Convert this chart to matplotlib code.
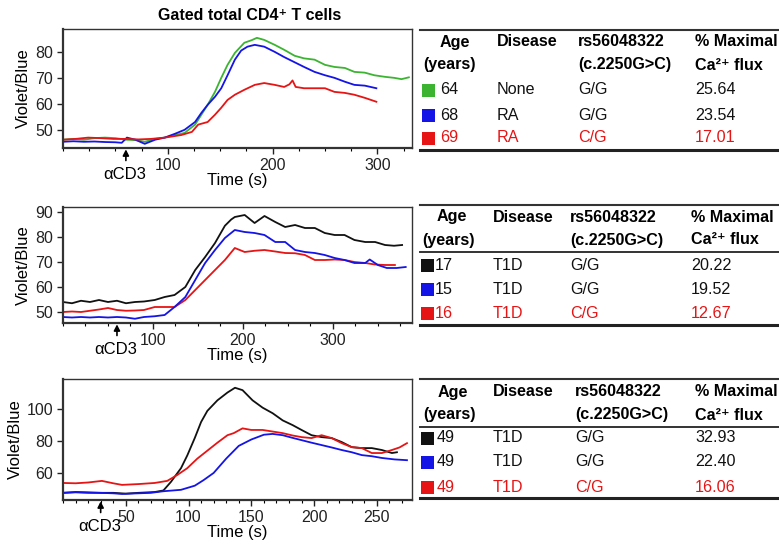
import matplotlib
matplotlib.use("Agg")
import matplotlib.pyplot as plt
from matplotlib.ticker import MultipleLocator, FixedLocator
from matplotlib.lines import Line2D
from matplotlib.patches import Rectangle

plt.rcParams['font.family'] = ['Liberation Sans', 'DejaVu Sans']

# ---------------- data ----------------
# Panel 1 (Gated total CD4+ T cells)
p1_green_t = [0, 10, 20, 30, 40, 50, 60, 70, 78, 88, 97, 107, 116, 126, 132, 138, 145, 151, 157, 164, 173, 180, 185,
              192, 202, 211, 221, 230, 240, 250, 259, 269, 278, 288, 297, 307, 316, 323, 330]
p1_green_v = [46.2, 46.5, 46.2, 46.8, 47.0, 46.8, 46.2, 46.0, 45.4, 46.5, 47.0, 48.0, 48.8, 52.0, 55.8, 59.6, 64.6,
              70.0, 75.0, 79.6, 83.5, 84.5, 85.4, 84.6, 82.7, 80.8, 78.5, 77.5, 77.0, 75.0, 74.2, 73.8, 72.3, 72.0,
              71.0, 70.4, 70.0, 69.5, 70.2]
p1_blue_t = [0, 10, 20, 30, 40, 50, 56, 61, 69, 78, 88, 97, 107, 116, 126, 132, 138, 145, 151, 157, 164, 170, 176,
             183, 192, 202, 211, 221, 230, 240, 250, 259, 269, 278, 288, 299]
p1_blue_v = [45.4, 45.6, 45.4, 45.5, 45.3, 45.2, 45.0, 47.0, 46.2, 44.6, 46.2, 47.0, 48.5, 50.0, 53.0, 56.5, 59.6,
             62.7, 66.0, 71.0, 77.0, 80.5, 82.0, 82.7, 82.0, 80.0, 78.0, 76.0, 74.2, 72.3, 71.0, 70.0, 68.5, 67.3,
             67.0, 66.0]
p1_red_t = [0, 12, 24, 36, 48, 60, 72, 84, 97, 105, 113, 123, 129, 138, 145, 151, 157, 164, 173, 183, 192, 202, 211,
            216, 219, 222, 230, 240, 250, 259, 269, 278, 288, 299]
p1_red_v = [46.2, 46.5, 47.0, 46.8, 46.5, 46.5, 46.3, 46.5, 47.0, 47.5, 48.0, 49.2, 52.0, 53.0, 55.8, 58.5, 61.5,
            63.5, 65.4, 67.3, 68.0, 67.3, 66.5, 67.5, 69.0, 66.5, 66.0, 66.0, 66.0, 64.6, 64.2, 63.5, 62.3, 60.8]

# Panel 2
p2_black_t = [0, 10, 20, 30, 40, 50, 60, 70, 80, 90, 102, 113, 124, 136, 147, 158, 169, 180, 187, 191, 202, 213,
              224, 236, 247, 258, 269, 280, 291, 302, 313, 324, 336, 347, 358, 368, 377]
p2_black_v = [54, 53.5, 54.5, 54, 54.8, 54, 54.5, 53.5, 54, 54.2, 54.8, 56, 56.8, 60, 66.8, 72, 77.6, 84.5, 87, 88,
              88.8, 85.6, 88.4, 86, 84, 84.8, 83.6, 83.6, 81.6, 80.8, 80.8, 78.8, 78, 78, 76.8, 76.5, 76.8]
p2_blue_t = [0, 10, 20, 30, 40, 50, 60, 70, 80, 90, 102, 113, 124, 136, 147, 158, 169, 180, 191, 202, 213, 224, 236,
             247, 258, 269, 280, 291, 302, 313, 324, 336, 341, 350, 360, 371, 381]
p2_blue_v = [48, 47.8, 48, 47.8, 48, 47.8, 48, 47.8, 47.3, 48, 48.3, 48.8, 52, 56, 62.8, 69.6, 74.8, 79.6, 82.8, 82,
             81.6, 80.8, 78, 78, 74.8, 74, 73.6, 72.8, 71.6, 70.8, 69.6, 69.6, 71, 68.8, 67.6, 67.6, 68]
p2_red_t = [0, 10, 20, 30, 40, 50, 60, 70, 80, 90, 102, 113, 124, 136, 147, 158, 169, 180, 191, 202, 213, 224, 236,
            247, 258, 269, 280, 291, 302, 313, 324, 336, 347, 358, 369]
p2_red_v = [50, 50.2, 50, 50.5, 51, 51.6, 50.8, 50.5, 50.6, 50.8, 52, 52, 52, 54.8, 58.8, 62.8, 66.8, 70.8, 75.6, 74,
            74.5, 74.8, 74.2, 73.6, 73.5, 72.8, 70.8, 70.8, 71, 70.8, 70, 69.6, 69, 68.8, 68.8]

# Panel 3
p3_black_t = [0, 10, 20, 30, 40, 50, 60, 73, 80, 86, 94, 99, 105, 110, 115, 123, 131, 137, 143, 151, 159, 167, 175,
              183, 190, 198, 206, 214, 222, 230, 238, 246, 254, 262, 266]
p3_black_v = [47.5, 48, 47.8, 47.5, 47.5, 47, 47.5, 48, 49, 54.4, 63, 71, 82, 92, 99, 105.6, 110.5, 113.5, 112,
              105.6, 101, 97.5, 93, 90, 87, 83.7, 82.5, 81.9, 79.4, 76.2, 75.6, 75.6, 74.4, 72.5, 73]
p3_red_t = [0, 10, 20, 31, 40, 47, 60, 73, 83, 91, 99, 107, 115, 123, 131, 136, 143, 150, 159, 167, 175, 183, 190,
            198, 206, 214, 222, 230, 238, 246, 254, 262, 268, 274]
p3_red_v = [53.7, 53.5, 54, 55, 53.5, 52.5, 53, 53.7, 55, 58.7, 63, 69, 74, 79, 83.7, 85, 88, 87, 87, 86, 85, 83.5,
            82.5, 81.9, 83.7, 81.9, 78.7, 76.2, 75.6, 72.5, 72.5, 74.4, 76, 78.7]
p3_blue_t = [0, 10, 20, 30, 40, 47, 60, 70, 80, 94, 105, 112, 120, 130, 140, 150, 160, 167, 175, 183, 190, 198, 206,
             214, 222, 230, 238, 246, 254, 264, 274]
p3_blue_v = [47.5, 47.8, 47.5, 47.5, 47.2, 46.8, 47.2, 47.5, 48.5, 49.4, 52, 55.5, 60, 69, 77, 81, 84, 84.5, 83.7,
             82, 80.6, 79, 77.5, 76, 74.4, 73, 71.2, 70.5, 69.4, 68.5, 68]

# tables
tbl_header1 = ["Age", "Disease", "rs56048322", "% Maximal"]
tbl_header2 = ["(years)", "", "(c.2250G>C)", "Ca\u00b2\u207a flux"]
t1_age = ["64", "68", "69"]
t1_disease = ["None", "RA", "RA"]
t1_geno = ["G/G", "G/G", "C/G"]
t1_flux = ["25.64", "23.54", "17.01"]
t2_age = ["17", "15", "16"]
t2_disease = ["T1D", "T1D", "T1D"]
t2_geno = ["G/G", "G/G", "C/G"]
t2_flux = ["20.22", "19.52", "12.67"]
t3_age = ["49", "49", "49"]
t3_disease = ["T1D", "T1D", "T1D"]
t3_geno = ["G/G", "G/G", "C/G"]
t3_flux = ["32.93", "22.40", "16.06"]

GREEN = "#3cb432"
BLUE = "#1414e6"
RED = "#e61414"
BLACK = "#111111"

W, H = 779, 545
fig = plt.figure(figsize=(W / 100, H / 100), dpi=100)


def ax_rect(l, t, r, b):
    return [l / W, 1 - b / H, (r - l) / W, (b - t) / H]


panels = [
    dict(rect=ax_rect(63, 29, 412, 148), xlim=(0, 333), ylim=(43, 88.8), yt=[50, 60, 70, 80], xt=[100, 200, 300],
         minor=25, stim=60,
         series=[(p1_green_t, p1_green_v, GREEN), (p1_blue_t, p1_blue_v, BLUE), (p1_red_t, p1_red_v, RED)]),
    dict(rect=ax_rect(63, 207, 412, 323), xlim=(0, 388), ylim=(45.6, 92), yt=[50, 60, 70, 80, 90],
         xt=[100, 200, 300], minor=25, stim=60,
         series=[(p2_black_t, p2_black_v, BLACK), (p2_red_t, p2_red_v, RED), (p2_blue_t, p2_blue_v, BLUE)]),
    dict(rect=ax_rect(63, 379, 412, 500), xlim=(0, 278), ylim=(43, 119), yt=[60, 80, 100],
         xt=[50, 100, 150, 200, 250], minor=10, stim=30,
         series=[(p3_black_t, p3_black_v, BLACK), (p3_red_t, p3_red_v, RED), (p3_blue_t, p3_blue_v, BLUE)]),
]

axes = []
for p in panels:
    ax = fig.add_axes(p["rect"])
    for t, v, c in p["series"]:
        ax.plot(t, v, color=c, lw=1.3)
    ax.set_xlim(*p["xlim"])
    ax.set_ylim(*p["ylim"])
    ax.xaxis.set_major_locator(FixedLocator(p["xt"]))
    ax.xaxis.set_minor_locator(MultipleLocator(p["minor"]))
    ax.yaxis.set_major_locator(FixedLocator(p["yt"]))
    ax.tick_params(which="major", direction="out", length=4, width=1, labelsize=11.5, pad=3, colors="#222222")
    ax.tick_params(which="minor", direction="out", length=2.5, width=0.8)
    for s in ax.spines.values():
        s.set_linewidth(1.0)
        s.set_color("#333333")
    ax.spines["bottom"].set_linewidth(1.6)
    ax.spines["left"].set_linewidth(1.6)
    ax.set_xlabel("Time (s)", fontsize=12, labelpad=0)
    ax.set_ylabel("Violet/Blue", fontsize=12, labelpad=3)
    ax.annotate("", xy=(p["stim"], 0), xycoords=("data", "axes fraction"), xytext=(0, -9),
                textcoords="offset points",
                arrowprops=dict(arrowstyle="-|>,head_length=0.35,head_width=0.18", lw=1.2, color="black",
                                shrinkA=0, shrinkB=1))
    ax.annotate("\u03b1CD3", xy=(p["stim"], 0), xycoords=("data", "axes fraction"), xytext=(-1, -19),
                textcoords="offset points", ha="center", va="center", fontsize=12)
    axes.append(ax)

fig.text(250 / W, 1 - 16 / H, "Gated total CD4\u207a T cells", ha="center", va="center", fontsize=11.5,
         fontweight="bold")

# ---------------- tables ----------------
ov = fig.add_axes([0, 0, 1, 1])
ov.set_xlim(0, W)
ov.set_ylim(H, 0)
ov.axis("off")

tables = [
    dict(top=30, y_h1=42, y_h2=65, mid=None, rows=[90, 115, 138], bottom=150,
         cols=[455, 497, 578, 695], sq=422, agex=440, yrsx=423,
         data=(t1_age, t1_disease, t1_geno, t1_flux), colors=[GREEN, BLUE, RED]),
    dict(top=205, y_h1=217, y_h2=240, mid=252, rows=[265, 289, 313], bottom=325,
         cols=[452, 493, 570, 691], sq=421, agex=435, yrsx=422,
         data=(t2_age, t2_disease, t2_geno, t2_flux), colors=[BLACK, BLUE, RED]),
    dict(top=379, y_h1=392, y_h2=415, mid=427, rows=[438, 462, 487], bottom=498,
         cols=[453, 493, 575, 695], sq=421, agex=437, yrsx=423,
         data=(t3_age, t3_disease, t3_geno, t3_flux), colors=[BLACK, BLUE, RED]),
]

FS = 11.6
for tb in tables:
    x0, x1 = 420, 779
    ov.add_line(Line2D([x0, x1], [tb["top"], tb["top"]], color="#333333", lw=1.5))
    if tb["mid"] is not None:
        ov.add_line(Line2D([x0, x1], [tb["mid"], tb["mid"]], color="#333333", lw=1.4))
    ov.add_line(Line2D([x0, x1], [tb["bottom"], tb["bottom"]], color="#222222", lw=2.2))
    c = tb["cols"]
    ov.text(c[0], tb["y_h1"], tbl_header1[0], ha="center", va="center", fontsize=FS, fontweight="bold")
    for i in range(1, 4):
        ov.text(c[i], tb["y_h1"], tbl_header1[i], ha="left", va="center", fontsize=FS, fontweight="bold")
    ov.text(tb["yrsx"], tb["y_h2"], tbl_header2[0], ha="left", va="center", fontsize=FS, fontweight="bold")
    ov.text(c[2], tb["y_h2"], tbl_header2[2], ha="left", va="center", fontsize=FS, fontweight="bold")
    ov.text(c[3], tb["y_h2"], tbl_header2[3], ha="left", va="center", fontsize=FS, fontweight="bold")
    ages, dis, geno, flux = tb["data"]
    for j, y in enumerate(tb["rows"]):
        col = RED if geno[j] == "C/G" else "#111111"
        ov.add_patch(Rectangle((tb["sq"], y - 6.5), 13, 13, color=tb["colors"][j], lw=0))
        ov.text(tb["agex"], y, ages[j], ha="left", va="center", fontsize=FS, color=col)
        ov.text(c[1], y, dis[j], ha="left", va="center", fontsize=FS, color=col)
        ov.text(c[2], y, geno[j], ha="left", va="center", fontsize=FS, color=col)
        ov.text(c[3], y, flux[j], ha="left", va="center", fontsize=FS, color=col)

fig.savefig("out.png", dpi=100)
